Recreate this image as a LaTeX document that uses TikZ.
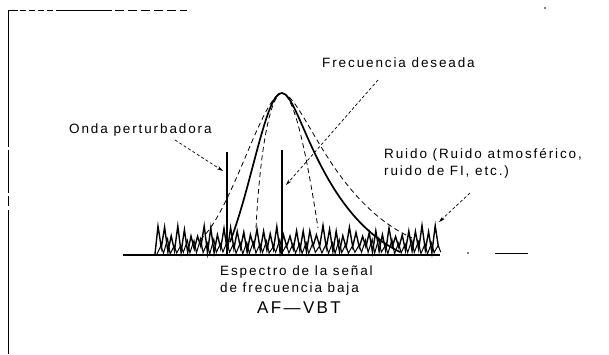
\documentclass[tikz,border=0pt]{standalone}
\usepackage{fontspec}
\setmainfont{Liberation Sans}
\usetikzlibrary{arrows.meta}
\tikzset{
  lbl/.style={inner sep=0pt, font=\fontsize{13.5}{17}\selectfont\addfontfeature{LetterSpace=14}},
  big/.style={inner sep=0pt, font=\fontsize{17}{20}\selectfont\addfontfeature{LetterSpace=14}},
  arr/.style={dash pattern=on 3pt off 2.2pt, line width=0.7pt, -{Stealth[length=6pt,width=3.5pt]}},
  frame/.style={line width=1pt},
  thick line/.style={line width=2.6pt},
  solidcurve/.style={line width=1.7pt},
  dcurve/.style={line width=0.8pt, dash pattern=on 5pt off 3.5pt},
  noise/.style={line width=1.4pt, line join=miter},
}
\begin{document}
\begin{tikzpicture}[x=1pt,y=-1pt]
\useasboundingbox (0,0) rectangle (609,354);
% frame remnants
\draw[frame] (8,354) -- (8,210);
\draw[frame] (8,206) -- (8,196);
\draw[frame] (8,193) -- (8,150);
\draw[frame] (8,147) -- (8,10);
\draw[frame] (8,10) -- (18,10);
\draw[frame,dash pattern=on 6pt off 3pt] (20,10) -- (60,10);
\draw[frame] (60,10) -- (112,10);
\draw[frame,dash pattern=on 9pt off 4pt] (115,10) -- (187,10);
\fill (545,8) circle (0.9);
% baseline
\coordinate (b0) at (123,255);
\coordinate (b1) at (440,255);
\draw[line width=1.8pt] (b0) -- (b1);
\fill (468,253) circle (0.8);
\draw[line width=1pt] (495,253) -- (528,253);
% noise
\pgfmathsetseed{4711}
\draw[noise] (155,254) \foreach \i in {0,...,42} { -- ({158+6.6*\i}, {225+12*rnd}) -- ({161.3+6.6*\i}, {246+7*rnd}) };
\draw[line width=1pt] (157,254) \foreach \i in {0,...,42} { -- ({161+6.6*\i}, {238+9*rnd}) -- ({163.5+6.6*\i}, {252+2*rnd}) };
% curves
\coordinate (pk) at (282,93);
\draw[solidcurve] (230,242) .. controls (252,185) and (266,92) .. (pk)
  .. controls (300,94) and (318,212) .. (400,252);
\draw[dcurve] (200,240) .. controls (232,212) and (262,95) .. (pk)
  .. controls (304,96) and (330,200) .. (412,238);
\draw[dcurve] (256,228) .. controls (260,150) and (270,95) .. (pk)
  .. controls (294,95) and (306,150) .. (318,228);
% vertical lines
\coordinate (itop) at (227,152);
\coordinate (ibot) at (227,255);
\coordinate (dtop) at (282,150);
\coordinate (dbot) at (282,255);
\draw[thick line] (itop) -- (ibot);
\draw[thick line] (dtop) -- (dbot);
% labels
\node[lbl, anchor=west] (fd) at (322,63) {Frecuencia deseada};
\node[lbl, anchor=west] (op) at (69,130) {Onda perturbadora};
\node[lbl, anchor=north west, align=left] (ru) at (384,148) {Ruido (Ruido atmosférico,\\ruido de FI, etc.)};
\node[lbl, anchor=north west, align=left] (es) at (220,266) {Espectro de la señal\\de frecuencia baja};
\node[big] (af) at (299,308) {AF—VBT};
% arrows
\coordinate (fdt) at (378,80);
\coordinate (fdh) at (286,185);
\draw[arr] (fdt) -- (fdh);
\coordinate (opt) at (175,140);
\coordinate (oph) at (223,171);
\draw[arr] (opt) -- (oph);
\coordinate (rut) at (470,193);
\coordinate (ruh) at (439,222);
\draw[arr] (rut) -- (ruh);
\end{tikzpicture}
\end{document}
